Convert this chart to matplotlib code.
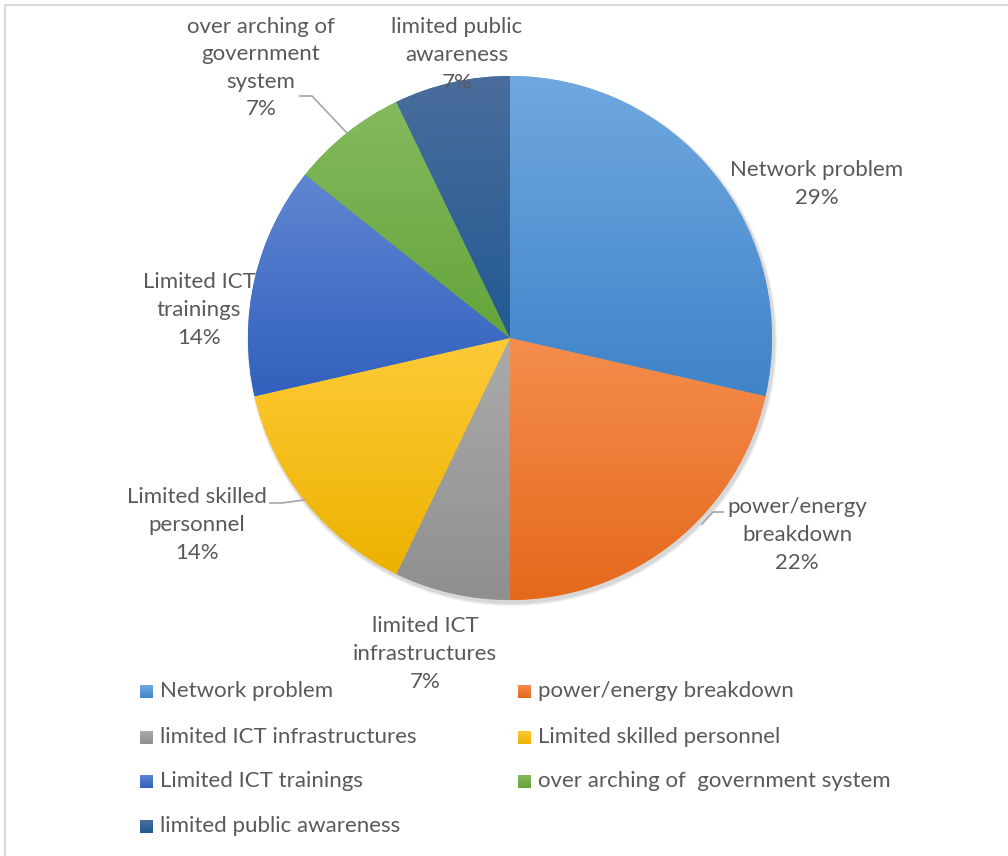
import matplotlib.pyplot as plt
import numpy as np
from matplotlib.colors import LinearSegmentedColormap
from matplotlib.patches import Rectangle

plt.rcParams['font.family'] = ['Lato', 'DejaVu Sans']

# data (responses per challenge)
categories = ['Network problem', 'power/energy breakdown', 'limited ICT infrastructures',
              'Limited skilled personnel', 'Limited ICT trainings',
              'over arching of  government system', 'limited public awareness']
counts = [4, 3, 1, 2, 2, 1, 1]
pct_labels = ['29%', '22%', '7%', '14%', '14%', '7%', '7%']
slice_labels = ['Network problem', 'power/energy\nbreakdown', 'limited ICT\ninfrastructures',
                'Limited skilled\npersonnel', 'Limited ICT\ntrainings',
                'over arching of\ngovernment\nsystem', 'limited public\nawareness']

# gradient colours, top -> bottom
grad_top = ['#70a8e0', '#f58d4e', '#ababab', '#ffca38', '#5f86d2', '#84ba5e', '#4a6d9c']
grad_bot = ['#3f83c9', '#e4691b', '#8f8f8f', '#ecb200', '#3160bd', '#65a43a', '#215a93']
base = ['#5b9bd5', '#ed7d31', '#a5a5a5', '#ffc000', '#4472c4', '#70ad47', '#2e5f95']

W, H = 1008, 856
fig = plt.figure(figsize=(W / 100, H / 100), dpi=100)
ax = fig.add_axes([0, 0, 1, 1])

cx, cy, r = 510, H - 338, 262

# soft shadow
for k, a in enumerate([0.05, 0.05, 0.06]):
    ax.add_patch(plt.Circle((cx + 2, cy - 3), r + 3 - k, color='black', alpha=a, lw=0, zorder=1))

wedges, _ = ax.pie(counts, startangle=90, counterclock=False, radius=r, center=(cx, cy),
                   colors=base, wedgeprops=dict(linewidth=0, zorder=2), frame=True)
ax.set_xlim(0, W)
ax.set_ylim(0, H)
ax.set_aspect('auto')
ax.axis('off')

grad = np.linspace(0, 1, 256).reshape(-1, 1)
for w, c1, c2 in zip(wedges, grad_top, grad_bot):
    ext = w.get_path().get_extents()
    cmap = LinearSegmentedColormap.from_list('g', [c1, c2])
    im = ax.imshow(grad, cmap=cmap, aspect='auto', zorder=3,
                   extent=(ext.x0, ext.x1, ext.y0, ext.y1), origin='upper')
    im.set_clip_path(w)

txt_col = '#595959'
fs = 16
label_pos = [(817, 184), (797, 535), (425, 654), (197, 525), (199, 310), (261, 68), (457, 55)]
for (x, y), name, p in zip(label_pos, slice_labels, pct_labels):
    ax.text(x, H - y, name + '\n' + p, ha='center', va='center', fontsize=fs,
            color=txt_col, linespacing=1.47, zorder=5)

# leader lines
lc = '#a6a6a6'
ax.plot([723, 713, 702], [H - 512, H - 512, H - 524], color=lc, lw=1.2, zorder=4)
ax.plot([270, 282, 304], [H - 503, H - 503, H - 500], color=lc, lw=1.2, zorder=4)
ax.plot([300, 312, 347], [H - 96, H - 96, H - 133], color=lc, lw=1.2, zorder=4)

# legend, row-major in two columns
col_x = [146, 524]
row_y = [691, 737, 781, 826]
for i, (name, c1, c2) in enumerate(zip(categories, grad_top, grad_bot)):
    x = col_x[i % 2]
    y = H - row_y[i // 2]
    sq = Rectangle((x - 6.5, y - 6.5), 13, 13, lw=0, facecolor='none', zorder=4)
    ax.add_patch(sq)
    cmap = LinearSegmentedColormap.from_list('g', [c1, c2])
    im = ax.imshow(grad, cmap=cmap, aspect='auto', zorder=4,
                   extent=(x - 6.5, x + 6.5, y - 6.5, y + 6.5), origin='upper')
    im.set_clip_path(sq)
    ax.text(x + 14, y, name, ha='left', va='center', fontsize=fs, color=txt_col, zorder=5)

# chart frame
ax.plot([5, 5, W + 10], [-10, H - 5, H - 5], color='#d9d9d9', lw=1.5, zorder=6)

fig.savefig('out.png', dpi=100)
